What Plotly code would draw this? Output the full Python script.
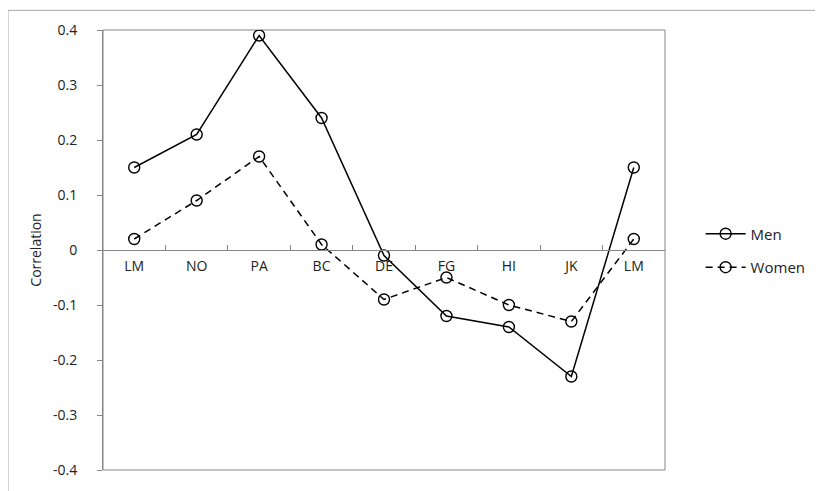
import plotly.graph_objects as go

categories = ["LM", "NO", "PA", "BC", "DE", "FG", "HI", "JK", "LM"]
men = [0.15, 0.21, 0.39, 0.24, -0.01, -0.12, -0.14, -0.23, 0.15]
women = [0.02, 0.09, 0.17, 0.01, -0.09, -0.05, -0.10, -0.13, 0.02]
y_ticks = [0.4, 0.3, 0.2, 0.1, 0, -0.1, -0.2, -0.3, -0.4]
y_ticktext = ["0.4", "0.3", "0.2", "0.1", "0", "-0.1", "-0.2", "-0.3", "-0.4"]

xpos = list(range(len(categories)))
FONT = "Open Sans"
AX = "#868686"
TXT = "#222222"

OFF = 8  # page body margin
W, H = 815, 483
L, T = 103 - OFF, 27 - OFF
pw, ph = 568, 449
R, B = W - L - pw, H - T - ph

def px_x(p):
    return (p - OFF - L) / pw

def px_y(p):
    return (T + ph - (p - OFF)) / ph

fig = go.Figure()
fig.add_trace(go.Scatter(
    x=xpos, y=men, name="Men", mode="lines+markers", legendgroup="men",
    line=dict(color="black", width=1.5),
    marker=dict(symbol="circle-open", size=11, color="black", line=dict(width=1.4)),
))
fig.add_trace(go.Scatter(
    x=xpos, y=women, name="Women", mode="lines+markers", legendgroup="women",
    line=dict(color="black", width=1.5, dash="7px,5px"),
    marker=dict(symbol="circle-open", size=11, color="black", line=dict(width=1.4)),
))

fig.update_layout(
    width=W, height=H,
    margin=dict(l=L, r=R, t=T, b=B),
    paper_bgcolor="white", plot_bgcolor="white",
    font=dict(family=FONT, size=14, color=TXT),
    showlegend=True,
    legend=dict(x=px_x(707), y=px_y(252), xanchor="left", yanchor="middle",
                font=dict(size=15, family=FONT, color=TXT),
                bgcolor="rgba(0,0,0,0)", itemwidth=40, tracegroupgap=11),
    xaxis=dict(
        range=[-0.5, len(categories) - 0.5],
        tickmode="array", tickvals=xpos, ticktext=categories,
        ticks="", showgrid=False, zeroline=False,
        showline=True, linecolor=AX, linewidth=1,
        anchor="free", position=0.5,
        tickfont=dict(size=14, family=FONT, color=TXT),
        ticklabelstandoff=3,
        minor=dict(tickvals=[i + 0.5 for i in range(len(categories) - 1)],
                   ticks="inside", ticklen=5, tickcolor=AX, tickwidth=1),
        fixedrange=True,
    ),
    yaxis=dict(
        range=[-0.4, 0.4],
        tickmode="array", tickvals=y_ticks, ticktext=y_ticktext,
        ticks="outside", ticklen=5, tickcolor=AX,
        showgrid=False, zeroline=False,
        showline=True, linecolor=AX, linewidth=1,
        tickfont=dict(size=14, family=FONT, color=TXT),
        ticklabelstandoff=17,
        title=dict(text="Correlation", font=dict(size=14, family=FONT, color=TXT), standoff=8),
        fixedrange=True,
    ),
    shapes=[
        dict(type="rect", xref="paper", yref="paper", x0=0, x1=1, y0=0, y1=1,
             line=dict(color=AX, width=1), layer="below"),
        dict(type="rect", xref="paper", yref="paper",
             x0=px_x(7), x1=px_x(840), y0=px_y(500), y1=px_y(7),
             line=dict(color="#ABABAB", width=1), layer="below"),
    ],
)

fig.write_html("out.html")
